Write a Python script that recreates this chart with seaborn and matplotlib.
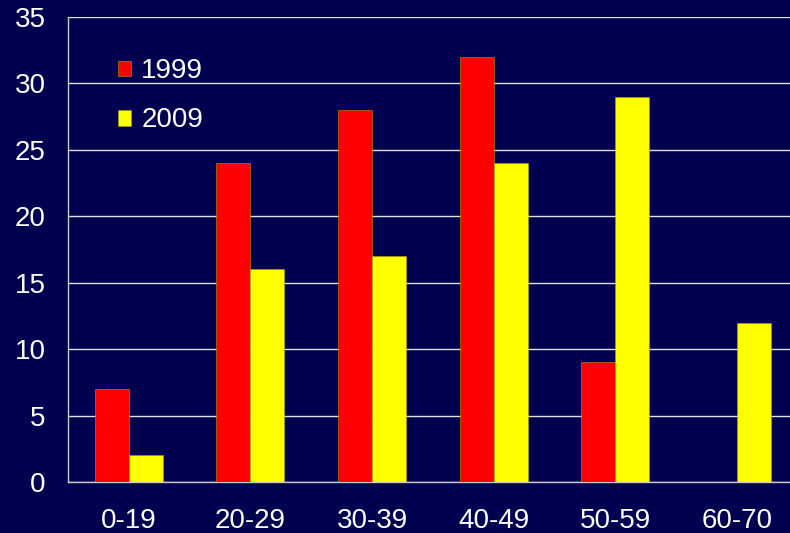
import numpy as np
import pandas as pd
import matplotlib
matplotlib.use("Agg")
import matplotlib.pyplot as plt
import seaborn as sns
from matplotlib.ticker import FixedLocator

# dados
faixas = ["0-19", "20-29", "30-39", "40-49", "50-59", "60-70"]
valores_1999 = [7, 24, 28, 32, 9, np.nan]
valores_2009 = [2, 16, 17, 24, 29, 12]
anos = ["1999", "2009"]
cores = ["#FF0000", "#FFFF00"]
yticks = [0, 5, 10, 15, 20, 25, 30, 35]

df = pd.DataFrame({
    "Faixa": faixas * 2,
    "Ano": [anos[0]] * len(faixas) + [anos[1]] * len(faixas),
    "Valor": valores_1999 + valores_2009,
})

fundo = "#000050"
sns.set_style("white")
plt.rcParams["font.family"] = ["Liberation Sans", "DejaVu Sans"]

fig = plt.figure(figsize=(7.9, 5.33), dpi=100, facecolor=fundo)
ax = fig.add_axes([0.086, 0.0957, 0.924, 0.8723])
ax.set_facecolor(fundo)

sns.barplot(data=df, x="Faixa", y="Valor", hue="Ano", palette=cores,
            width=0.56, gap=0, edgecolor="#B0A000", linewidth=0.4,
            saturation=1, ax=ax, zorder=3)

ax.set_ylim(0, 35)
ax.set_xlim(-0.5, len(faixas) - 0.5)
ax.set_yticks(yticks)
ax.yaxis.grid(True, color="#E0E0E0", linewidth=1, zorder=0)
ax.set_axisbelow(True)

for lado in ["top", "right"]:
    ax.spines[lado].set_visible(False)
for lado in ["left", "bottom"]:
    ax.spines[lado].set_color("#C8C8C8")
    ax.spines[lado].set_linewidth(1)

ax.tick_params(axis="y", colors="white", labelsize=20, length=8, color="#C8C8C8",
               pad=8)
ax.tick_params(axis="x", which="major", colors="white", labelsize=20, length=0,
               pad=19)
ax.xaxis.set_minor_locator(FixedLocator(np.arange(-0.5, len(faixas), 1.0)))
ax.tick_params(axis="x", which="minor", length=7, color="#C8C8C8", width=1)
ax.set_xlabel("")
ax.set_ylabel("")

leg = ax.legend(loc="upper left", bbox_to_anchor=(0.068, 0.911), frameon=False,
                fontsize=20, handlelength=0.5, handleheight=0.5,
                handletextpad=0.35, labelspacing=0.83, borderpad=0,
                borderaxespad=0)
for t in leg.get_texts():
    t.set_color("white")

fig.savefig("out.png", dpi=100, facecolor=fundo)
